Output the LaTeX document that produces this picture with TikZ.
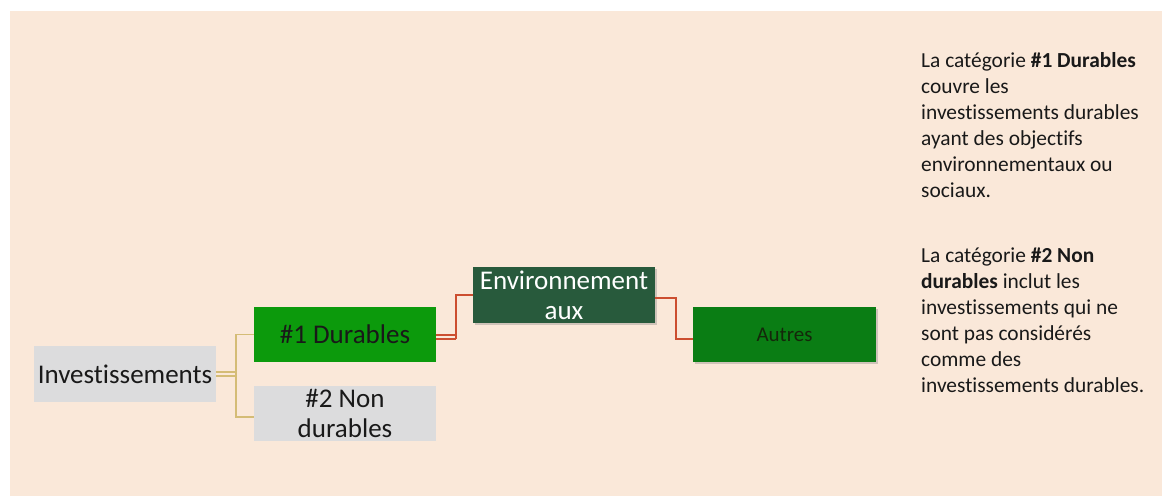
\documentclass[tikz,border=0pt]{standalone}
\usepackage{fontspec}
\setmainfont{Carlito}[Ligatures=NoCommon]
\usetikzlibrary{shadows}
\definecolor{bg}{RGB}{250,232,217}
\definecolor{boxgray}{RGB}{220,220,221}
\definecolor{green1}{RGB}{12,154,12}
\definecolor{green2}{RGB}{10,125,20}
\definecolor{envgreen}{RGB}{40,90,60}
\definecolor{tanline}{RGB}{212,188,118}
\definecolor{redline}{RGB}{204,78,48}
\definecolor{txt}{RGB}{25,25,25}
\tikzset{
  box/.style={rectangle, inner sep=0pt, minimum width=182pt, minimum height=55pt, align=center, text=txt, font=\fontsize{27}{30}\selectfont},
  graybox/.style={box, fill=boxgray},
  shad/.style={drop shadow={opacity=0.35, shadow xshift=1.5pt, shadow yshift=-2pt}},
  tconn/.style={draw=tanline, line width=1.4pt},
  rconn/.style={draw=redline, line width=1.6pt},
  note/.style={anchor=base west, inner sep=0pt, align=left, text=txt, font=\fontsize{21.4}{26}\selectfont}
}
\begin{document}
\begin{tikzpicture}[x=1pt,y=-1pt]
\useasboundingbox (0,0) rectangle (1162,496);
\fill[white] (0,0) rectangle (1162,496);
\fill[bg] (10,11) rectangle (1162,496);

\node[graybox, minimum height=56pt] (inv) at (125,374) {Investissements};
\node[box, fill=green1] (dur) at (345,334.5) {\#1 Durables};
\node[graybox] (non) at (345,413.5) {\#2 Non\\durables};
\node[box, fill=envgreen, text=white, minimum height=56pt, shad] (env) at (564,295) {Environnement\\aux};
\node[box, fill=green2, minimum width=183pt, shad, text={rgb,255:red,20;green,40;blue,10}, font=\fontsize{21}{24}\selectfont] (aut) at (784.5,334.5) {Autres};

\coordinate (j1a) at (236,372);
\coordinate (j1b) at (236,376);
\coordinate (j1) at (236,374);
\draw[tconn] (inv.east |- j1a) -- (j1a);
\draw[tconn] (inv.east |- j1b) -- (j1b);
\draw[tconn] (dur.west) -| (j1) |- ([yshift=-3.5pt]non.west);

\coordinate (j2a) at (456,335);
\coordinate (j2b) at (456,339);
\draw[rconn] (dur.east |- j2a) -- (j2a);
\draw[rconn] (dur.east |- j2b) -- (j2b);
\draw[rconn] (j2b) |- (env.west);

\coordinate (j3) at (676,298);
\draw[rconn] (env.east |- j3) -- (j3) |- ([yshift=-4.5pt]aut.west);

\node[note] (n1) at (921,197) {La catégorie \textbf{\#1 Durables}\\couvre les\\investissements durables\\ayant des objectifs\\environnementaux ou\\sociaux.};
\node[note] (n2) at (921,392) {La catégorie \textbf{\#2 Non}\\\textbf{durables} inclut les\\investissements qui ne\\sont pas considérés\\comme des\\investissements durables.};
\end{tikzpicture}
\end{document}
